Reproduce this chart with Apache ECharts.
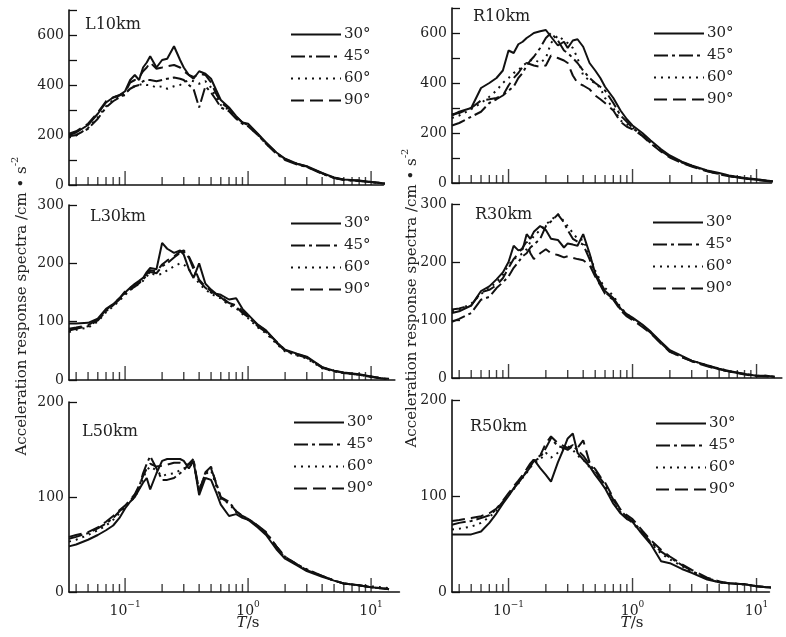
<!DOCTYPE html>
<html><head><meta charset="utf-8">
<script src="https://cdn.jsdelivr.net/npm/echarts@6/dist/echarts.min.js"></script>
<style>html,body{margin:0;padding:0;background:#fff}#c{width:786px;height:637px}</style>
</head><body><div id="c"></div>
<script>
// ---------------- data ----------------
const periods = [0.035,0.04,0.05,0.06,0.07,0.08,0.09,0.1,0.11,0.12,0.13,0.14,0.15,0.16,0.18,0.2,0.22,0.25,0.28,0.3,0.33,0.36,0.4,0.45,0.5,0.55,0.6,0.7,0.8,0.9,1.0,1.2,1.4,1.7,2.0,2.5,3.0,4.0,5.0,6.0,8.0,10,12,14];
const angleNames = ['30°','45°','60°','90°'];
const panelNames = ['L10km','R10km','L30km','R30km','L50km','R50km'];
const yMax = [700,700,300,300,200,200];
const xMin = 0.035;
const xMax = [12.6,13.2,15.6,16,17,12.7];
const minorTicks = [0.04,0.05,0.06,0.07,0.08,0.09,0.2,0.3,0.4,0.5,0.6,0.7,0.8,0.9,2,3,4,5,6,7,8,9];
const majorTicks = [0.1,1,10];
const yTitle = 'Acceleration response spectra /cm • s';
const yTitleSup = '-2';

const L10_30 = [200,210,240,285,330,350,360,375,420,440,420,470,490,515,470,500,505,555,500,470,440,425,455,445,425,380,340,310,275,250,245,205,170,130,105,85,75,48,30,22,18,12,8,5];
const L10_45 = [195,200,225,265,310,335,350,365,385,395,400,415,420,420,415,420,425,430,425,420,400,385,310,395,370,340,310,295,265,245,235,200,165,125,100,82,72,45,28,20,16,11,7,4];
const L10_60 = [190,198,228,270,315,340,352,360,390,395,400,405,400,400,390,395,385,395,400,410,420,415,405,415,390,350,320,300,270,248,238,200,165,128,102,84,73,46,29,21,17,12,8,5];
const L10_90 = [205,215,245,290,335,350,358,370,410,420,430,455,470,490,465,470,475,480,470,455,440,432,445,440,410,365,330,305,272,250,240,203,168,128,104,85,74,47,29,21,17,12,8,5];

const R10_30 = [270,285,300,380,400,420,450,530,520,555,565,580,590,600,607,612,585,550,565,540,570,575,545,480,450,420,385,340,290,255,230,200,170,135,110,85,70,50,40,30,20,15,10,6];
const R10_45 = [230,240,265,285,320,335,350,370,385,420,440,470,490,505,540,580,600,570,530,520,500,480,450,420,400,385,370,320,270,245,220,190,160,128,105,82,68,48,36,28,18,13,9,5];
const R10_60 = [260,270,295,320,345,370,400,420,440,450,470,480,490,495,480,500,560,590,570,560,540,500,430,410,400,380,340,300,250,235,222,192,162,130,106,84,69,49,37,29,19,14,9,5];
const R10_90 = [275,280,300,330,335,340,350,390,420,440,465,480,475,470,465,470,510,500,490,480,430,400,390,375,350,335,320,290,245,225,215,188,158,125,102,80,66,47,35,27,18,12,8,4];

const L30_30 = [97,97,98,105,122,130,140,150,158,165,170,175,185,192,190,235,225,218,222,215,190,175,200,165,155,148,146,138,140,122,112,95,85,65,52,45,40,22,16,13,10,6,3,2];
const L30_45 = [85,88,92,102,118,128,138,148,155,160,166,172,180,185,183,195,200,210,218,220,210,190,170,158,150,146,142,130,125,115,108,92,82,64,50,43,38,21,15,12,9,5,3,1];
const L30_60 = [82,86,90,100,116,126,136,146,154,160,165,170,178,183,180,182,188,195,200,198,190,180,165,155,148,143,140,128,123,113,106,90,80,62,49,42,37,20,15,12,9,6,3,1];
const L30_90 = [88,90,94,104,120,130,140,152,158,163,168,174,182,188,186,198,205,212,220,222,212,195,172,160,152,147,143,132,128,118,110,94,84,66,51,44,39,22,16,12,9,6,3,1];

const R30_30 = [112,115,125,150,158,170,182,200,228,220,222,248,240,252,262,255,240,238,225,232,230,228,248,215,180,165,150,138,120,110,104,92,80,62,48,38,30,22,16,12,7,4,4,2];
const R30_45 = [97,102,112,135,140,155,165,175,190,200,210,215,225,230,240,262,270,282,268,255,240,235,230,205,178,160,148,136,118,108,102,90,78,60,46,36,29,21,15,11,7,4,3,2];
const R30_60 = [115,118,128,145,155,165,178,195,205,210,215,222,235,245,255,265,272,283,270,262,250,240,238,212,185,168,155,142,122,110,103,91,79,61,47,37,30,22,16,12,7,4,4,2];
const R30_90 = [118,120,125,148,152,160,172,190,205,215,225,235,215,205,215,222,215,212,208,210,207,205,203,195,175,160,145,135,117,106,100,88,77,59,45,36,29,20,15,11,6,3,3,1];

const L50_30 = [48,50,55,60,65,70,78,88,95,100,108,115,120,108,125,138,140,140,140,138,130,138,102,120,118,105,92,80,82,78,76,68,60,45,35,28,22,16,12,9,7,5,4,3];
const L50_45 = [56,58,62,67,72,78,85,90,96,102,110,125,135,143,130,118,118,120,125,128,135,140,105,125,130,115,100,95,85,80,77,70,63,48,37,29,24,17,12,9,7,5,4,3];
const L50_60 = [53,55,60,65,70,76,83,89,95,100,108,120,128,132,128,122,124,125,128,130,132,136,108,124,128,112,98,93,84,79,76,69,62,47,36,29,23,17,12,9,7,6,5,4];
const L50_90 = [58,60,63,68,74,80,86,91,97,103,112,122,130,135,132,133,134,136,136,135,134,138,106,126,132,114,99,94,85,80,77,70,62,48,37,29,23,17,12,9,7,5,4,3];

const R50_30 = [60,60,60,63,72,82,92,100,108,114,120,125,130,138,129,122,115,135,150,160,165,145,138,131,122,115,108,92,82,76,73,60,50,32,30,24,20,13,10,9,8,6,5,5];
const R50_45 = [70,72,74,77,80,86,94,102,108,114,120,126,132,136,140,150,160,152,150,148,152,148,142,133,126,118,112,96,85,78,74,62,52,42,36,28,22,14,11,9,8,6,5,4];
const R50_60 = [65,66,68,72,78,85,93,101,107,113,119,124,130,134,138,145,140,145,150,152,148,142,138,130,124,116,110,94,83,77,72,61,51,40,34,27,21,14,10,9,8,6,5,4];
const R50_90 = [74,75,77,79,82,87,95,103,110,116,122,128,134,138,142,155,162,155,152,150,153,150,158,135,128,120,114,98,86,80,76,64,54,44,37,29,23,15,11,9,8,6,5,4];

const panelSeries = [
  [L10_30,L10_45,L10_60,L10_90],
  [R10_30,R10_45,R10_60,R10_90],
  [L30_30,L30_45,L30_60,L30_90],
  [R30_30,R30_45,R30_60,R30_90],
  [L50_30,L50_45,L50_60,L50_90],
  [R50_30,R50_45,R50_60,R50_90]
];

// ---------------- layout / style ----------------
const FONT = 'DejaVu Serif';
const INK = '#111';
const TXT = '#222';
const colLeft = [69, 452];
const decadePx = [123, 124];
const rowTop = [[10, 8], [205, 204], [402, 400]];
const rowBot = [[185, 183], [380, 378], [592, 592]];
const legendPos = [[290, 27], [653, 26], [290, 216], [652, 215], [293, 415], [655, 416]];
const titlePos = [[85, 25], [473, 17], [90, 217], [475, 215], [82, 432], [470, 427]];
const lineTypes = ['solid', [14, 4, 3, 4], [2, 5], [13, 6]];

const grids = [], xAxes = [], yAxes = [], series = [], legends = [], graphics = [];

panelNames.forEach((name, i) => {
  const col = i % 2, row = Math.floor(i / 2);
  const width = decadePx[col] * (Math.log10(xMax[i]) - Math.log10(xMin));
  const top = rowTop[row][col], bot = rowBot[row][col];
  grids.push({ left: colLeft[col], top: top, width: width, height: bot - top });
  xAxes.push({
    type: 'log', logBase: 10, gridIndex: i, min: xMin, max: xMax[i],
    axisLine: { show: true, lineStyle: { color: INK, width: 1.6 } },
    axisTick: { show: false }, minorTick: { show: false },
    splitLine: { show: false }, minorSplitLine: { show: false },
    axisLabel: {
      show: row === 2, margin: 8,
      formatter: v => {
        const lg = Math.log10(v), e = Math.round(lg);
        if (Math.abs(lg - e) > 1e-6) return '';
        return '{b|10}{s|' + (e < 0 ? '−' + (-e) : e) + '}';
      },
      rich: {
        b: { fontFamily: FONT, fontSize: 14, color: TXT, lineHeight: 18, verticalAlign: 'bottom' },
        s: { fontFamily: FONT, fontSize: 9, color: TXT, lineHeight: 12, verticalAlign: 'top' }
      }
    }
  });
  yAxes.push({
    type: 'value', gridIndex: i, min: 0, max: yMax[i], interval: 100,
    axisLine: { show: true, lineStyle: { color: INK, width: 1.6 } },
    axisTick: { show: true, inside: true, length: 8, lineStyle: { color: INK, width: 1.3 } },
    splitLine: { show: false },
    axisLabel: {
      margin: 5, fontFamily: FONT, fontSize: 14, color: TXT,
      formatter: v => (row === 0 ? ((v % 200 === 0 && v < 700) ? String(v) : '') : String(v))
    }
  });
  panelSeries[i].forEach((vals, k) => {
    series.push({
      name: angleNames[k], type: 'line', xAxisIndex: i, yAxisIndex: i,
      data: periods.map((t, j) => [t, vals[j]]),
      symbol: 'none', showSymbol: false, smooth: false, clip: true, z: 3,
      lineStyle: { color: INK, width: 2, type: lineTypes[k] },
      itemStyle: { color: INK }
    });
  });
  series.push({
    type: 'scatter', xAxisIndex: i, yAxisIndex: i, silent: true, clip: false, z: 2,
    data: minorTicks.filter(t => t <= xMax[i]).map(t => [t, 0]),
    symbol: 'rect', symbolSize: [1.4, 8], symbolOffset: [0, -4],
    itemStyle: { color: INK }
  });
  series.push({
    type: 'scatter', xAxisIndex: i, yAxisIndex: i, silent: true, clip: false, z: 2,
    data: majorTicks.filter(t => t <= xMax[i]).map(t => [t, 0]),
    symbol: 'rect', symbolSize: [1.4, 14], symbolOffset: [0, -7],
    itemStyle: { color: INK }
  });
  legends.push({
    data: angleNames, orient: 'vertical', left: legendPos[i][0], top: legendPos[i][1],
    padding: 0, itemWidth: 50, itemHeight: 14, itemGap: 7, selectedMode: false,
    itemStyle: { color: 'rgba(0,0,0,0)', borderColor: 'rgba(0,0,0,0)', borderWidth: 0, opacity: 0 },
    textStyle: { fontFamily: FONT, fontSize: 15, color: TXT, padding: [0, 0, 0, -2] }
  });
  graphics.push({
    type: 'text', x: titlePos[i][0], y: titlePos[i][1],
    style: { text: name, fontFamily: FONT, fontSize: 16, fill: TXT, verticalAlign: 'middle', align: 'left' }
  });
});

// axis titles
[[20, 306], [410, 298]].forEach(p => {
  graphics.push({
    type: 'text', x: p[0], y: p[1], rotation: Math.PI / 2,
    style: {
      text: '{a|' + yTitle + '}{s|' + yTitleSup + '}',
      align: 'center', verticalAlign: 'middle', fill: TXT,
      rich: {
        a: { fontFamily: FONT, fontSize: 15, fill: TXT, lineHeight: 20, verticalAlign: 'bottom' },
        s: { fontFamily: FONT, fontSize: 10, fill: TXT, lineHeight: 12, verticalAlign: 'top' }
      }
    }
  });
});
[248, 632].forEach(x => {
  graphics.push({
    type: 'text', x: x, y: 623,
    style: {
      text: '{i|T}{n|/s}', align: 'center', verticalAlign: 'middle',
      rich: {
        i: { fontFamily: FONT, fontSize: 15, fontStyle: 'italic', fill: TXT },
        n: { fontFamily: FONT, fontSize: 15, fill: TXT }
      }
    }
  });
});

const chart = echarts.init(document.getElementById('c'), null, { renderer: 'canvas' });
chart.setOption({
  animation: false,
  backgroundColor: '#fff',
  grid: grids, xAxis: xAxes, yAxis: yAxes, series: series, legend: legends,
  graphic: graphics
});
</script></body></html>
